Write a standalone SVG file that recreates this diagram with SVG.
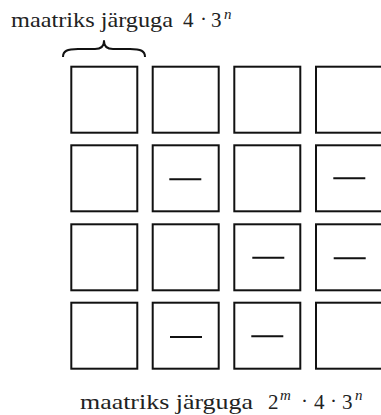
<svg xmlns="http://www.w3.org/2000/svg" width="381" height="415" viewBox="0 0 381 415">
<style>
.cell{fill:#fff;stroke:#111;stroke-width:2}
.dash{stroke:#111;stroke-width:2;stroke-linecap:butt}
.brace{fill:none;stroke:#111;stroke-width:2;stroke-linejoin:round}
.lbl{font-family:'Liberation Serif','DejaVu Serif',serif;fill:#222}
.it{font-style:italic}
</style>
<rect width="381" height="415" fill="#fff"/>
<g id="label-top" class="lbl">
<text x="11" y="27" font-size="21" textLength="162" lengthAdjust="spacingAndGlyphs">maatriks järguga</text>
<text x="183" y="27" font-size="21">4</text>
<text x="200" y="26" font-size="21">·</text>
<text x="211" y="27" font-size="21">3</text>
<text class="it" x="224" y="19" font-size="15">n</text>
</g>
<g id="brace">
<path class="brace" d="M63,57 C63,51 67,49 78,49 L95,49 C101,49 104,46 104,41 C104,46 107,49 113,49 L130,49 C141,49 145,51 145,57"/>
</g>
<g id="r1c1"><rect class="cell" x="71.3" y="66.7" width="66" height="66"/></g>
<g id="r1c2"><rect class="cell" x="152.7" y="66.7" width="66" height="66"/></g>
<g id="r1c3"><rect class="cell" x="234.3" y="66.7" width="66" height="66"/></g>
<g id="r1c4"><rect class="cell" x="316" y="66.7" width="66" height="66"/></g>
<g id="r2c1"><rect class="cell" x="71.3" y="145.3" width="66" height="66"/></g>
<g id="r2c2"><rect class="cell" x="152.7" y="145.3" width="66" height="66"/><line class="dash" x1="169.3" y1="179.3" x2="201.3" y2="179.3"/></g>
<g id="r2c3"><rect class="cell" x="234.3" y="145.3" width="66" height="66"/></g>
<g id="r2c4"><rect class="cell" x="316" y="145.3" width="66" height="66"/><line class="dash" x1="333.3" y1="178.3" x2="365.3" y2="178.3"/></g>
<g id="r3c1"><rect class="cell" x="71.3" y="224.3" width="66" height="66"/></g>
<g id="r3c2"><rect class="cell" x="152.7" y="224.3" width="66" height="66"/></g>
<g id="r3c3"><rect class="cell" x="234.3" y="224.3" width="66" height="66"/><line class="dash" x1="252.3" y1="257.7" x2="284.3" y2="257.7"/></g>
<g id="r3c4"><rect class="cell" x="316" y="224.3" width="66" height="66"/><line class="dash" x1="333.7" y1="258.3" x2="365.7" y2="258.3"/></g>
<g id="r4c1"><rect class="cell" x="71.3" y="302.7" width="66" height="66"/></g>
<g id="r4c2"><rect class="cell" x="152.7" y="302.7" width="66" height="66"/><line class="dash" x1="170" y1="337" x2="202" y2="337"/></g>
<g id="r4c3"><rect class="cell" x="234.3" y="302.7" width="66" height="66"/><line class="dash" x1="251.3" y1="336.3" x2="283.3" y2="336.3"/></g>
<g id="r4c4"><rect class="cell" x="316" y="302.7" width="66" height="66"/></g>
<g id="connectors"></g>
<g id="label-bottom" class="lbl">
<text x="80" y="409" font-size="21" textLength="173" lengthAdjust="spacingAndGlyphs">maatriks järguga</text>
<text x="268" y="409" font-size="21">2</text>
<text class="it" x="280" y="400" font-size="15">m</text>
<text x="301" y="408" font-size="21">·</text>
<text x="314" y="409" font-size="21">4</text>
<text x="330" y="408" font-size="21">·</text>
<text x="342" y="409" font-size="21">3</text>
<text class="it" x="355" y="400" font-size="15">n</text>
</g>
</svg>
